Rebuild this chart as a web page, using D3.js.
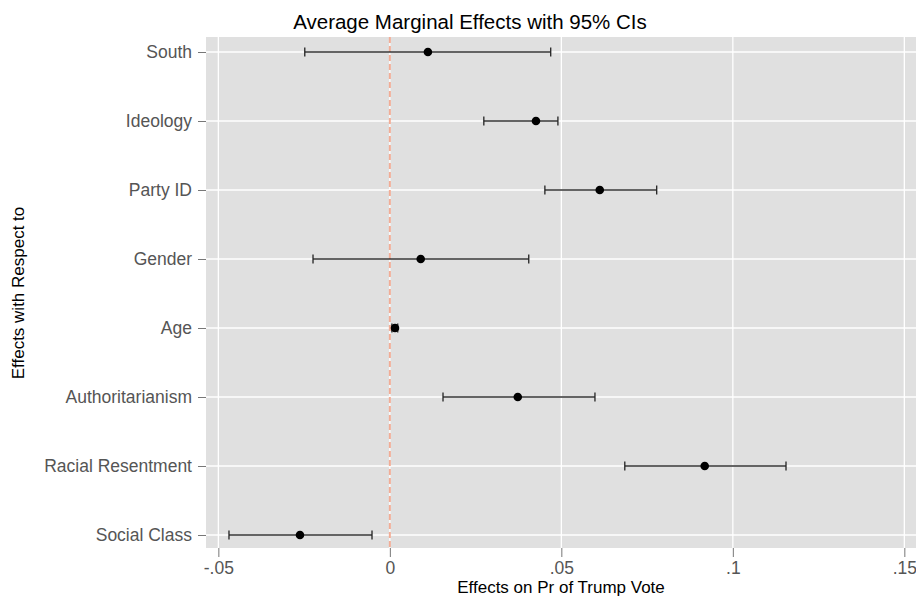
<!DOCTYPE html>
<html>
<head>
<meta charset="utf-8">
<script src="https://cdn.jsdelivr.net/npm/d3@7"></script>
<style>
  body { margin: 0; background: #fff; }
  text { font-family: "Liberation Sans", Arial, sans-serif; }
</style>
</head>
<body>
<div id="chart"></div>
<script>
// categories top to bottom
var categories = ["South", "Ideology", "Party ID", "Gender", "Age",
                  "Authoritarianism", "Racial Resentment", "Social Class"];
var estimates = [0.0111, 0.0426, 0.0612, 0.0090, 0.0015, 0.0373, 0.0918, -0.0262];
var lower     = [-0.0248, 0.0274, 0.0452, -0.0224, 0.0006, 0.0155, 0.0685, -0.0469];
var upper     = [0.0469, 0.0490, 0.0778, 0.0405, 0.0023, 0.0598, 0.1155, -0.0052];
var xTicks = [-0.05, 0, 0.05, 0.1, 0.15];
var xTickLabels = ["-.05", "0", ".05", ".1", ".15"];

var W = 916, H = 598;
var panel = {left: 206, right: 916, top: 37, bottom: 548};

var svg = d3.select("#chart").append("svg")
    .attr("width", W)
    .attr("height", H);

// set the ranges
var x = d3.scaleLinear()
    .domain([-0.0536, 0.1534])
    .range([panel.left, panel.right]);
var y = d3.scalePoint()
    .domain(categories)
    .range([52, 535]);

// panel background
svg.append("rect")
    .attr("x", panel.left)
    .attr("y", panel.top)
    .attr("width", panel.right - panel.left)
    .attr("height", panel.bottom - panel.top)
    .attr("fill", "#e0e0e0");

// grid lines
svg.selectAll(".vgrid")
    .data(xTicks)
    .enter().append("line")
    .attr("class", "vgrid")
    .attr("x1", function (d) { return x(d); })
    .attr("x2", function (d) { return x(d); })
    .attr("y1", panel.top)
    .attr("y2", panel.bottom)
    .attr("stroke", "#fff")
    .attr("stroke-width", 1.3);

svg.selectAll(".hgrid")
    .data(categories)
    .enter().append("line")
    .attr("class", "hgrid")
    .attr("x1", panel.left)
    .attr("x2", panel.right)
    .attr("y1", function (d) { return y(d); })
    .attr("y2", function (d) { return y(d); })
    .attr("stroke", "#fff")
    .attr("stroke-width", 1.3);

// zero reference line
svg.append("line")
    .attr("x1", x(0)).attr("x2", x(0))
    .attr("y1", panel.top).attr("y2", panel.bottom)
    .attr("stroke", "#f2ad96")
    .attr("stroke-width", 2)
    .attr("stroke-dasharray", "6,3");

// x axis
var xAxis = svg.append("g")
    .attr("transform", "translate(0," + panel.bottom + ")")
    .call(d3.axisBottom(x)
        .tickValues(xTicks)
        .tickFormat(function (d, i) { return xTickLabels[i]; })
        .tickSize(9)
        .tickPadding(5));
xAxis.select(".domain").remove();
xAxis.selectAll(".tick line").attr("stroke", "#777");
xAxis.selectAll(".tick text")
    .attr("fill", "#555")
    .style("font-size", "17.5px")
    .style("font-family", "Liberation Sans, Arial, sans-serif");

// y axis
var yAxis = svg.append("g")
    .attr("transform", "translate(" + panel.left + ",0)")
    .call(d3.axisLeft(y).tickSize(8).tickPadding(6));
yAxis.select(".domain").remove();
yAxis.selectAll(".tick line").attr("stroke", "#777");
yAxis.selectAll(".tick text")
    .attr("fill", "#555")
    .style("font-size", "17.5px")
    .style("font-family", "Liberation Sans, Arial, sans-serif");

// error bars
var rows = categories.map(function (c, i) {
    return {cat: c, est: estimates[i], lo: lower[i], hi: upper[i]};
});

svg.selectAll(".ci")
    .data(rows)
    .enter().append("line")
    .attr("class", "ci")
    .attr("x1", function (d) { return x(d.lo); })
    .attr("x2", function (d) { return x(d.hi); })
    .attr("y1", function (d) { return y(d.cat); })
    .attr("y2", function (d) { return y(d.cat); })
    .attr("stroke", "#333")
    .attr("stroke-width", 1.3);

["lo", "hi"].forEach(function (k) {
    svg.selectAll(".cap-" + k)
        .data(rows)
        .enter().append("line")
        .attr("class", "cap-" + k)
        .attr("x1", function (d) { return x(d[k]); })
        .attr("x2", function (d) { return x(d[k]); })
        .attr("y1", function (d) { return y(d.cat) - 4.5; })
        .attr("y2", function (d) { return y(d.cat) + 4.5; })
        .attr("stroke", "#222")
        .attr("stroke-width", 1.3);
});

svg.selectAll(".pt")
    .data(rows)
    .enter().append("circle")
    .attr("class", "pt")
    .attr("cx", function (d) { return x(d.est); })
    .attr("cy", function (d) { return y(d.cat); })
    .attr("r", 4.3)
    .attr("fill", "#000");

// titles
svg.append("text")
    .attr("x", 470)
    .attr("y", 29)
    .style("text-anchor", "middle")
    .style("font-size", "20.5px")
    .text("Average Marginal Effects with 95% CIs");

svg.append("text")
    .attr("x", (panel.left + panel.right) / 2)
    .attr("y", 593)
    .style("text-anchor", "middle")
    .style("font-size", "17px")
    .text("Effects on Pr of Trump Vote");

svg.append("text")
    .attr("transform", "rotate(-90)")
    .attr("x", -293)
    .attr("y", 24)
    .style("text-anchor", "middle")
    .style("font-size", "17px")
    .text("Effects with Respect to");
</script>
</body>
</html>
